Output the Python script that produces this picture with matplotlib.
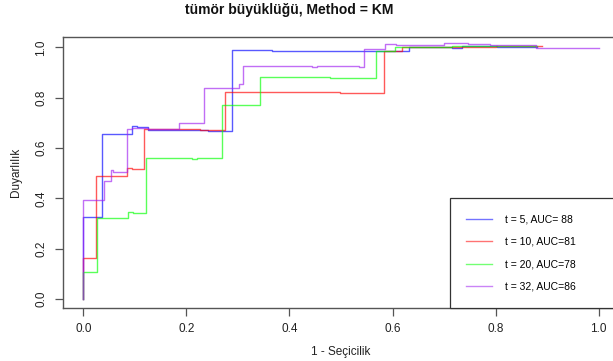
import matplotlib
matplotlib.use("Agg")
import matplotlib.pyplot as plt
from matplotlib.lines import Line2D

plt.rcParams['font.family'] = ['Liberation Sans', 'DejaVu Sans']

title = "tümör büyüklüğü, Method = KM"
xlabel = "1 - Seçicilik"
ylabel = "Duyarlılık"
labels = ["t = 5, AUC= 88", "t = 10, AUC=81", "t = 20, AUC=78", "t = 32, AUC=86"]
colors = ["#0000FF", "#FF0000", "#00FF00", "#A020F0"]
ticks = [0.0, 0.2, 0.4, 0.6, 0.8, 1.0]
tick_labels = ["0.0", "0.2", "0.4", "0.6", "0.8", "1.0"]

fpr_t5 = [0, 0, 0.0356, 0.094, 0.104, 0.126, 0.241, 0.288, 0.367, 0.631, 0.715, 0.735, 0.803, 0.88]
tpr_t5 = [0, 0.328, 0.655, 0.689, 0.684, 0.672, 0.668, 0.989, 0.987, 1.0, 0.998, 1.005, 1.003, 1.003]

fpr_t10 = [0, 0, 0.0246, 0.085, 0.094, 0.118, 0.2265, 0.274, 0.358, 0.498, 0.584, 0.618, 0.718, 0.80, 0.89]
tpr_t10 = [0, 0.163, 0.489, 0.522, 0.516, 0.675, 0.672, 0.824, 0.821, 0.819, 0.985, 1.0, 1.003, 1.005, 1.005]

fpr_t20 = [0, 0, 0.026, 0.087, 0.097, 0.122, 0.21, 0.22, 0.27, 0.343, 0.479, 0.568, 0.605, 0.715, 0.80, 0.88]
tpr_t20 = [0, 0.108, 0.321, 0.348, 0.344, 0.56, 0.557, 0.56, 0.772, 0.882, 0.880, 0.987, 1.0, 1.006, 1.004, 1.004]

fpr_t32 = [0, 0, 0.04, 0.053, 0.058, 0.085, 0.094, 0.126, 0.186, 0.235, 0.302, 0.31, 0.4435, 0.454, 0.534, 0.545, 0.586, 0.607, 0.699, 0.747, 0.789, 0.841, 0.879, 1.0]
tpr_t32 = [0, 0.392, 0.47, 0.513, 0.504, 0.676, 0.68, 0.677, 0.698, 0.84, 0.854, 0.927, 0.923, 0.927, 0.923, 0.995, 1.013, 1.008, 1.018, 1.015, 1.01, 1.008, 0.999, 0.999]

series = [(fpr_t5, tpr_t5), (fpr_t10, tpr_t10), (fpr_t20, tpr_t20), (fpr_t32, tpr_t32)]

fig = plt.figure(figsize=(6.13, 3.61), dpi=100)
ax = fig.add_axes([0.1023, 0.1468, 0.908, 0.7499])

for (x, y), c in zip(series, colors):
    ax.step(x, y, where='post', color=c, lw=1.0, alpha=0.65)

ax.set_xlim(-0.04, 1.04)
ax.set_ylim(-0.035, 1.04)
ax.set_xticks(ticks)
ax.set_xticklabels(tick_labels, fontsize=8.5, color='#222222')
ax.set_yticks(ticks)
ax.set_yticklabels(tick_labels, fontsize=8.5, color='#222222', rotation=90, va='center')
ax.tick_params(axis='both', direction='out', length=6, width=0.9, color='#555555', pad=5)
for s in ax.spines.values():
    s.set_color('#555555')
    s.set_linewidth(1.0)
ax.spines['right'].set_visible(False)

ax.set_xlabel(xlabel, fontsize=8.5, color='#222222', labelpad=8)
ax.set_ylabel(ylabel, fontsize=8.5, color='#222222', labelpad=10)
fig.text(0.471, 0.972, title, fontsize=10, fontweight='bold', ha='center', va='center', color='#111111')

handles = [Line2D([], [], color=c, lw=1.0, alpha=0.55) for c in colors]
x0 = (450 - 62.7) / (619 - 62.7)
leg = ax.legend(handles, labels, loc='lower left', bbox_to_anchor=(x0, 0.0, 1.06 - x0, 0.4),
                mode='expand', borderaxespad=0, fontsize=7.5, frameon=True, fancybox=False,
                edgecolor='#333333', framealpha=1, handlelength=2.5, handletextpad=1.2,
                labelspacing=1.2, borderpad=1.55)
leg.get_frame().set_linewidth(0.9)

fig.savefig("out.png", dpi=100)
